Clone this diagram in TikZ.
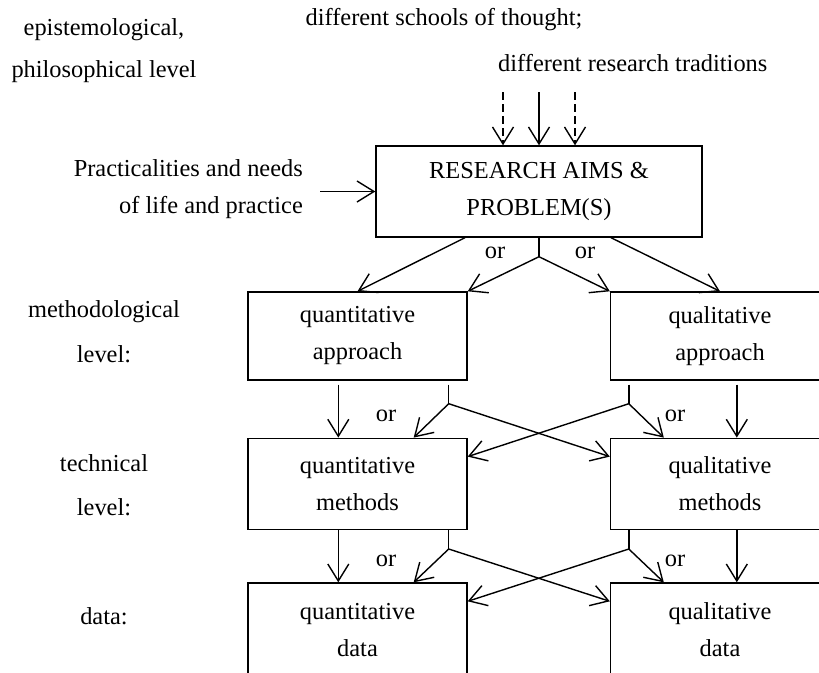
\documentclass[tikz,border=0pt]{standalone}
\usepackage{fontspec}
\setmainfont{Liberation Serif}
\usetikzlibrary{arrows.meta,calc}
\begin{document}
\begin{tikzpicture}[x=1pt,y=-1pt,
  font=\fontsize{24.4}{37}\selectfont,
  box/.style={draw, line width=1.4pt, minimum width=219pt, inner sep=0pt, align=center},
  arr/.style={line width=1.4pt, -{Straight Barb[length=17pt,width=21pt,line width=1.4pt]}},
  ln/.style={line width=1.4pt},
  lbl/.style={inner sep=0pt}]
\useasboundingbox (0,0) rectangle (819,672);
\clip (0,0) rectangle (819,672);

% boxes
\node[box, minimum width=326pt, minimum height=91pt] (top) at (539,191.5) {RESEARCH AIMS \&\\PROBLEM(S)};
\node[box, minimum height=88pt] (qtA) at (357.5,336) {quantitative\\approach};
\node[box, minimum height=88pt] (qlA) at (720,336) {qualitative\\approach};
\node[box, minimum height=91pt] (qtM) at (357.5,483.8) {quantitative\\methods};
\node[box, minimum height=91pt] (qlM) at (720,483.8) {qualitative\\methods};
\node[box, minimum height=94pt] (qtD) at (357.5,630) {quantitative\\data};
\node[box, minimum height=94pt] (qlD) at (720,630) {qualitative\\data};

% free texts
\node[lbl, anchor=base] (t1) at (444,25) {different schools of thought;};
\node[lbl, anchor=base west] (t2) at (498,71) {different research traditions};
\node[lbl, anchor=base] (e1) at (104,35) {epistemological,};
\node[lbl, anchor=base] (e2) at (104,77) {philosophical level};
\node[lbl, anchor=base east] (p1) at (303,176) {Practicalities and needs};
\node[lbl, anchor=base east] (p2) at (303,213) {of life and practice};
\node[lbl, anchor=base] (m1) at (104,317) {methodological};
\node[lbl, anchor=base] (m2) at (104,362) {level:};
\node[lbl, anchor=base] (h1) at (104,471) {technical};
\node[lbl, anchor=base] (h2) at (104,515) {level:};
\node[lbl, anchor=base] (d1) at (104,624) {data:};

% or labels
\node[lbl, anchor=base] (or1) at (495,258) {or};
\node[lbl, anchor=base] (or2) at (585,258) {or};
\node[lbl, anchor=base] (or3) at (386,421.5) {or};
\node[lbl, anchor=base] (or4) at (675,421.5) {or};
\node[lbl, anchor=base] (or5) at (386,566.5) {or};
\node[lbl, anchor=base] (or6) at (675,566.5) {or};

% arrows into top box
\coordinate (s1) at (503,92);
\coordinate (s2) at (539,92);
\coordinate (s3) at (575,92);
\draw[arr, dash pattern=on 8pt off 4pt] (s1) -- (top.north -| s1);
\draw[arr] (s2) -- (top.north -| s2);
\draw[arr, dash pattern=on 8pt off 4pt] (s3) -- (top.north -| s3);
\coordinate (pr) at (320,191.5);
\draw[arr] (pr) -- (top.west);

% top box to approaches
\coordinate (b0) at ($(top.south)+(0,19)$);
\draw[ln] (top.south) -- (b0);
\draw[arr] (b0) -- (qtA.north east);
\draw[arr] (b0) -- (qlA.north west);
\draw[arr] ($(top.south)+(-74,0)$) -- (qtA.north);
\draw[arr] ($(top.south)+(72,0)$) -- (qlA.north);

% approaches to methods
\draw[arr] ($(qtA.south west)+(91,4)$) -- ($(qtM.north west)+(91,0)$);
\coordinate (bA1) at ($(qtA.south east)+(-19,23)$);
\draw[ln] ($(qtA.south east)+(-19,4)$) -- (bA1);
\draw[arr] (bA1) -- ($(qtM.north east)+(-54,0)$);
\draw[arr] (bA1) -- ($(qlM.north west)+(0,19)$);
\draw[arr] ($(qlA.south west)+(127,4)$) -- ($(qlM.north west)+(127,0)$);
\coordinate (bA2) at ($(qlA.south west)+(19,23)$);
\draw[ln] ($(qlA.south west)+(19,4)$) -- (bA2);
\draw[arr] (bA2) -- ($(qlM.north west)+(54,0)$);
\draw[arr] (bA2) -- ($(qtM.north east)+(0,19)$);

% methods to data
\draw[arr] ($(qtM.south west)+(91,0)$) -- ($(qtD.north west)+(91,0)$);
\coordinate (bM1) at ($(qtM.south east)+(-19,19)$);
\draw[ln] ($(qtM.south east)+(-19,0)$) -- (bM1);
\draw[arr] (bM1) -- ($(qtD.north east)+(-54,0)$);
\draw[arr] (bM1) -- ($(qlD.north west)+(0,19)$);
\draw[arr] ($(qlM.south west)+(127,0)$) -- ($(qlD.north west)+(127,0)$);
\coordinate (bM2) at ($(qlM.south west)+(19,19)$);
\draw[ln] ($(qlM.south west)+(19,0)$) -- (bM2);
\draw[arr] (bM2) -- ($(qlD.north west)+(54,0)$);
\draw[arr] (bM2) -- ($(qtD.north east)+(0,19)$);
\end{tikzpicture}
\end{document}
